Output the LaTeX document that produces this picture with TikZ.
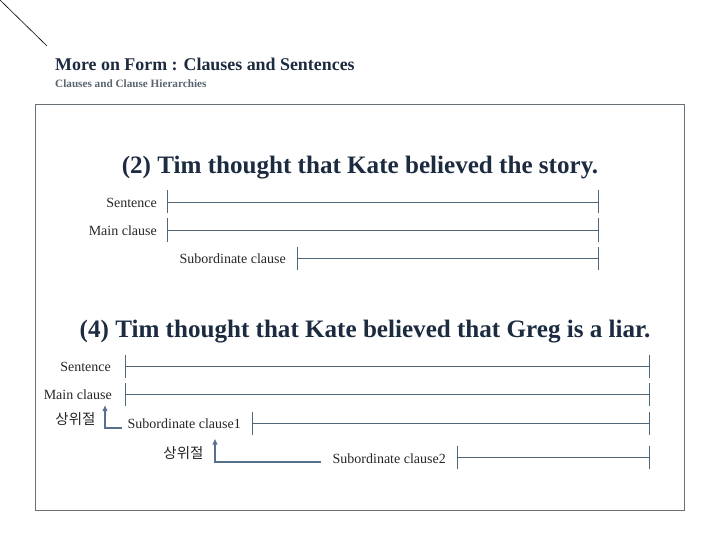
\documentclass[tikz,border=0pt]{standalone}
\usepackage{fontspec}
\setmainfont{Liberation Serif}
\newfontfamily\kofont{Noto Sans CJK KR}
\usetikzlibrary{arrows.meta}
\definecolor{navy}{HTML}{1C2B40}
\definecolor{subgray}{HTML}{5A6470}
\definecolor{linec}{HTML}{4E6678}
\definecolor{framec}{HTML}{687076}
\definecolor{arrc}{HTML}{56708E}
\begin{document}
\begin{tikzpicture}[x=1pt,y=-1pt,
  lbl/.style={anchor=east, inner sep=0pt, text=black!85, font=\fontsize{14}{16}\selectfont},
  kor/.style={inner sep=0pt, text=black!85, font=\kofont\fontsize{14.5}{16}\selectfont},
  bigtitle/.style={inner sep=0pt, text=navy, font=\bfseries\fontsize{25.1}{28}\selectfont},
  brk/.style={draw=linec, line width=0.9pt},
  arr/.style={draw=arrc, line width=2.2pt, -{Latex[length=6pt,width=5.5pt]}},
]
\useasboundingbox (0,0) rectangle (720,540);
% corner line
\coordinate (c0) at (0,0);
\coordinate (c1) at (47,46);
\draw[black, line width=0.6pt] (c0) -- (c1);
% headings
\node[anchor=west, inner sep=0pt, text=navy, font=\bfseries\fontsize{17.9}{20}\selectfont] (head) at (55,64) {More on Form : Clauses and Sentences};
\node[anchor=west, inner sep=0pt, text=subgray, font=\bfseries\fontsize{11.2}{13}\selectfont] (subhead) at (55,83.5) {Clauses and Clause Hierarchies};
% frame
\draw[draw=framec, line width=1pt] (35,105) rectangle (684,510);
% ----- example (2)
\node[bigtitle] (t2) at (360,168) {(2) Tim thought that Kate believed the story.};
\node[lbl] (s2) at (157,203) {Sentence};
\node[lbl] (m2) at (157,231) {Main clause};
\node[lbl] (u2) at (286,259) {Subordinate clause};
\coordinate (s2l) at (167,202);   \coordinate (s2r) at (598.5,202);
\coordinate (m2l) at (167,230);   \coordinate (m2r) at (598.5,230);
\coordinate (u2l) at (297,258);   \coordinate (u2r) at (598.5,258);
\foreach \a/\b in {s2l/s2r, m2l/m2r, u2l/u2r}{
  \draw[brk] (\a) -- (\b);
  \draw[brk] (\a) ++(0,-11.5) -- ++(0,23);
  \draw[brk] (\b) ++(0,-11.5) -- ++(0,23);
}
% ----- example (4)
\node[bigtitle] (t4) at (365,332) {(4) Tim thought that Kate believed that Greg is a liar.};
\node[lbl] (s4) at (111,367) {Sentence};
\node[lbl] (m4) at (112,395) {Main clause};
\node[lbl] (u41) at (241,424) {Subordinate clause1};
\node[lbl] (u42) at (446,459) {Subordinate clause2};
\node[kor] (k1) at (75.5,419) {상위절};
\node[kor] (k2) at (183.5,453) {상위절};
\coordinate (s4l) at (125.5,366.5); \coordinate (s4r) at (649,366.5);
\coordinate (m4l) at (125.5,394.5); \coordinate (m4r) at (649,394.5);
\coordinate (a4l) at (252,423);     \coordinate (a4r) at (649,423);
\coordinate (b4l) at (457,457.5);   \coordinate (b4r) at (649,457.5);
\foreach \a/\b in {s4l/s4r, m4l/m4r, a4l/a4r, b4l/b4r}{
  \draw[brk] (\a) -- (\b);
  \draw[brk] (\a) ++(0,-11.5) -- ++(0,23);
  \draw[brk] (\b) ++(0,-11.5) -- ++(0,23);
}
% arrows
\coordinate (ar1s) at (122,428);  \coordinate (ar1t) at (105,405);
\coordinate (ar2s) at (321,462);  \coordinate (ar2t) at (215,438.5);
\draw[arr] (ar1s) -| (ar1t);
\draw[arr] (ar2s) -| (ar2t);
\end{tikzpicture}
\end{document}
